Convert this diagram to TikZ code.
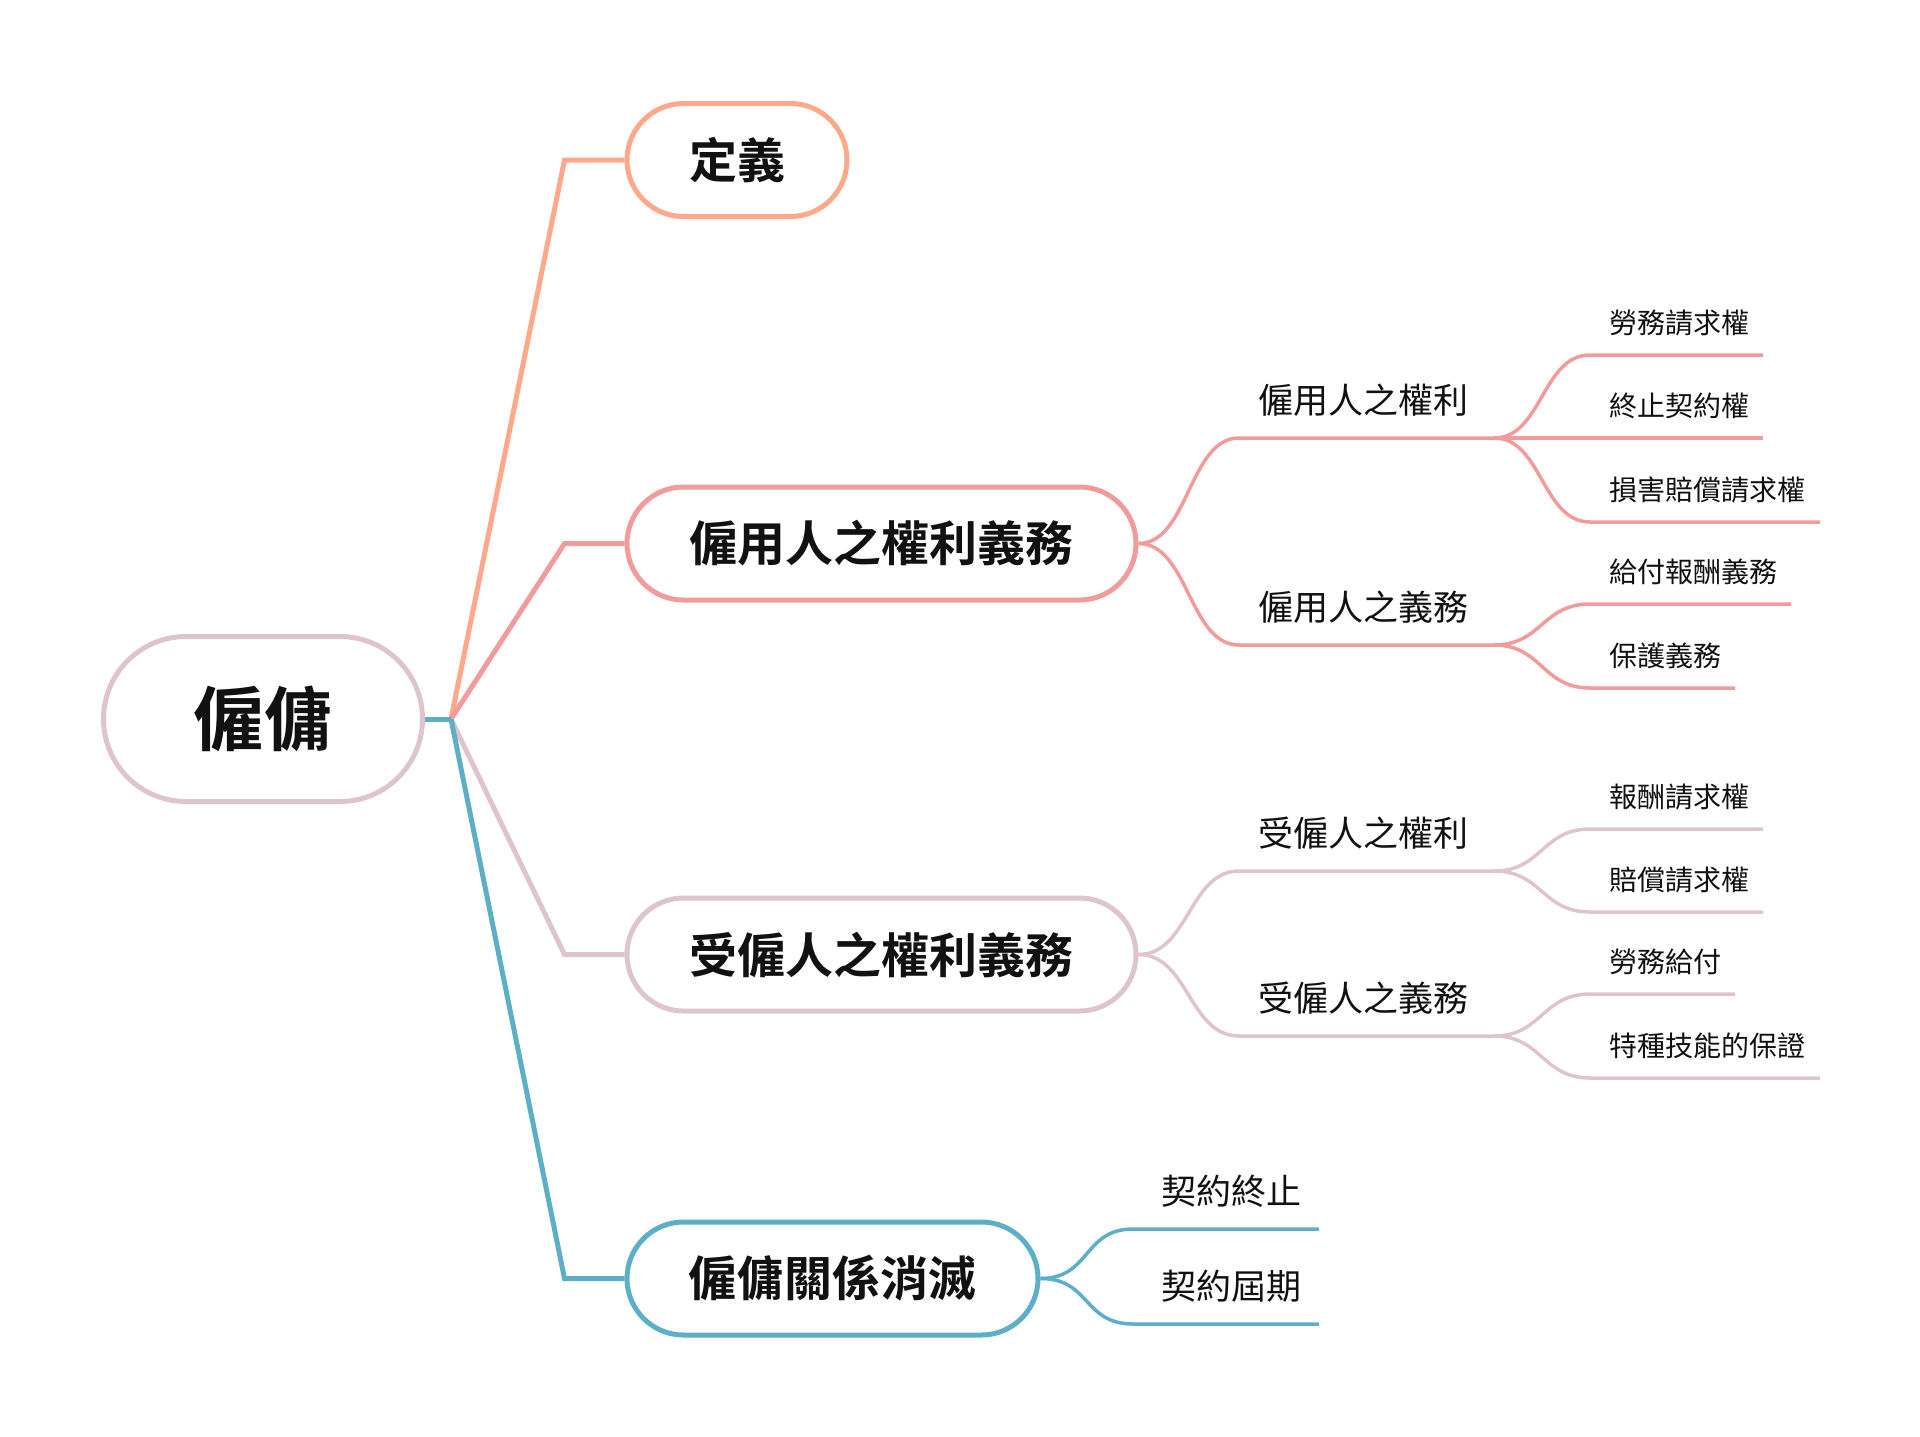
\documentclass[tikz,border=0pt]{standalone}
\usepackage{fontspec}
\newfontfamily\cjk{Noto Sans CJK TC}[BoldFont={Noto Sans CJK TC Bold}]
\usetikzlibrary{shapes.misc}
\definecolor{cdef}{HTML}{FFA98A}
\definecolor{cemp}{HTML}{F19B9B}
\definecolor{cwrk}{HTML}{DEC4CC}
\definecolor{cend}{HTML}{5CAFC6}
\definecolor{ink}{HTML}{111111}
\tikzset{
  box/.style={rounded rectangle, draw, line width=5pt, text=ink, font=\cjk\bfseries\fontsize{48}{48}\selectfont, minimum height=113pt, inner sep=0pt},
  sub/.style={text=ink, font=\cjk\fontsize{35}{35}\selectfont, inner sep=0pt},
  leaf/.style={text=ink, font=\cjk\fontsize{28}{28}\selectfont, anchor=west, inner sep=0pt},
  link/.style={line width=5pt},
  twig/.style={line width=3.5pt}
}
\begin{document}
\begin{tikzpicture}[x=1pt,y=-1pt]
\useasboundingbox (0,0) rectangle (1920,1436);
\node[box,draw=cwrk,minimum width=319pt,minimum height=165pt,font=\cjk\bfseries\fontsize{70}{70}\selectfont] (root) at (263,719) {僱傭};
\coordinate (hub) at (451,719);
\node[box,draw=cdef,minimum width=220pt] (def) at (737,160) {定義};
\node[box,draw=cemp,minimum width=509pt] (emp) at (881.5,543.5) {僱用人之權利義務};
\node[box,draw=cwrk,minimum width=509pt] (wrk) at (881.5,954.5) {受僱人之權利義務};
\node[box,draw=cend,minimum width=411pt] (end) at (832.5,1278.5) {僱傭關係消滅};
% main branches
\draw[link,cdef] (hub) -- ([xshift=-60pt]def.west) -- (def.west);
\draw[link,cemp] (hub) -- ([xshift=-60pt]emp.west) -- (emp.west);
\draw[link,cwrk] (hub) -- ([xshift=-60pt]wrk.west) -- (wrk.west);
\draw[link,cend] (hub) -- ([xshift=-60pt]end.west) -- (end.west);
\draw[link,cend] (root.east) -- (hub);
% 僱用人之權利義務
\coordinate (e1) at (1239,438); \coordinate (e1e) at (1494,438);
\coordinate (e2) at (1239,645); \coordinate (e2e) at (1494,645);
\draw[twig,cemp] (emp.east) .. controls +(50,0) and +(-50,0) .. (e1) -- (e1e);
\draw[twig,cemp] (emp.east) .. controls +(50,0) and +(-50,0) .. (e2) -- (e2e);
\node[sub] (e1t) at (1363,400) {僱用人之權利};
\node[sub] (e2t) at (1363,607) {僱用人之義務};
\foreach \k/\y/\x/\t in {1/355/1763/勞務請求權,2/438/1763/終止契約權,3/522/1820/損害賠償請求權}{
  \coordinate (e1\k) at (1590,\y); \coordinate (e1\k e) at (\x,\y);
  \draw[twig,cemp] (e1e) .. controls +(48,0) and +(-48,0) .. (e1\k) -- (e1\k e);
  \node[leaf] (e1\k t) at (1609,{\y-32}) {\t};
}
\foreach \k/\y/\x/\t in {1/604/1791/給付報酬義務,2/688/1735/保護義務}{
  \coordinate (e2\k) at (1590,\y); \coordinate (e2\k e) at (\x,\y);
  \draw[twig,cemp] (e2e) .. controls +(48,0) and +(-48,0) .. (e2\k) -- (e2\k e);
  \node[leaf] (e2\k t) at (1609,{\y-32}) {\t};
}
% 受僱人之權利義務
\coordinate (w1) at (1239,871); \coordinate (w1e) at (1494,871);
\coordinate (w2) at (1239,1036); \coordinate (w2e) at (1494,1036);
\draw[twig,cwrk] (wrk.east) .. controls +(50,0) and +(-50,0) .. (w1) -- (w1e);
\draw[twig,cwrk] (wrk.east) .. controls +(50,0) and +(-50,0) .. (w2) -- (w2e);
\node[sub] (w1t) at (1363,833) {受僱人之權利};
\node[sub] (w2t) at (1363,998) {受僱人之義務};
\foreach \k/\y/\x/\t in {1/829/1763/報酬請求權,2/912/1763/賠償請求權}{
  \coordinate (w1\k) at (1590,\y); \coordinate (w1\k e) at (\x,\y);
  \draw[twig,cwrk] (w1e) .. controls +(48,0) and +(-48,0) .. (w1\k) -- (w1\k e);
  \node[leaf] (w1\k t) at (1609,{\y-32}) {\t};
}
\foreach \k/\y/\x/\t in {1/994/1735/勞務給付,2/1078/1820/特種技能的保證}{
  \coordinate (w2\k) at (1590,\y); \coordinate (w2\k e) at (\x,\y);
  \draw[twig,cwrk] (w2e) .. controls +(48,0) and +(-48,0) .. (w2\k) -- (w2\k e);
  \node[leaf] (w2\k t) at (1609,{\y-32}) {\t};
}
% 僱傭關係消滅
\foreach \k/\y/\t in {1/1229/契約終止,2/1324/契約屆期}{
  \coordinate (d\k) at (1133,\y); \coordinate (d\k e) at (1319,\y);
  \draw[twig,cend] (end.east) .. controls +(50,0) and +(-50,0) .. (d\k) -- (d\k e);
  \node[sub,anchor=west] (d\k t) at (1161,{\y-38}) {\t};
}
\end{tikzpicture}
\end{document}
